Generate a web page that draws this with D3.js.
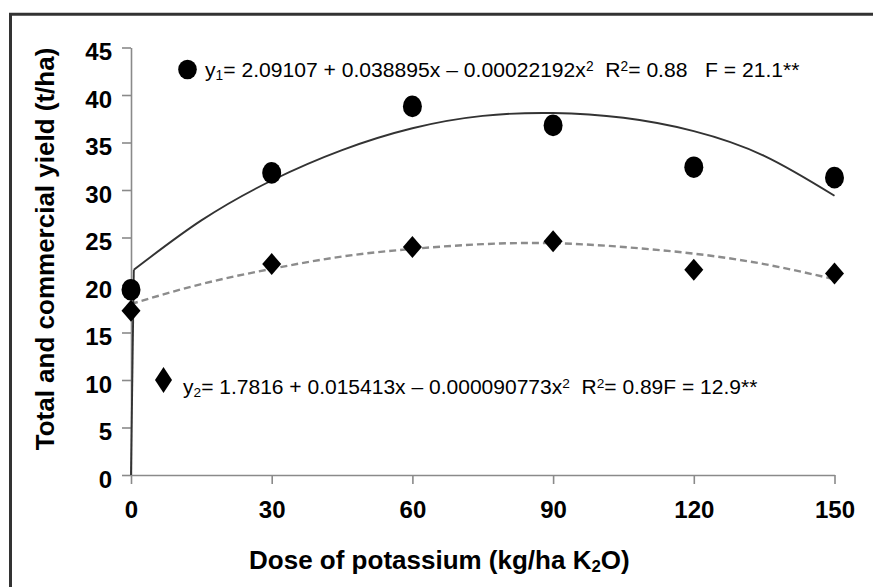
<!DOCTYPE html>
<html>
<head>
<meta charset="utf-8">
<script src="https://cdn.jsdelivr.net/npm/d3@7"></script>
<style>
  html, body { margin: 0; padding: 0; background: #fff; }
  svg { display: block; font-family: "Liberation Sans", Arial, sans-serif; }
</style>
</head>
<body>
<svg id="chart" width="873" height="587"></svg>
<script>
// ---------- data ----------
const doses = [0, 30, 60, 90, 120, 150];
const totalYield = [19.5, 31.8, 38.8, 36.8, 32.4, 31.3];
const commercialYield = [17.3, 22.2, 24.0, 24.6, 21.6, 21.2];

const fitDoses1 = [0.6, 15, 30, 45, 60, 75, 90, 105, 120, 135, 150];
const totalFit = [21.6, 26.8, 31.0, 34.2, 36.5, 37.8, 38.1, 37.6, 36.2, 33.6, 29.4];
const jumpDoses = [0, 0.6];
const jumpValues = [0, 21.6];

const fitDoses2 = [0, 15, 30, 45, 60, 75, 90, 105, 120, 135, 150];
const commercialFit = [18.0, 20.1, 21.7, 23.0, 23.8, 24.3, 24.4, 24.0, 23.3, 22.2, 20.6];

const xTicks = [0, 30, 60, 90, 120, 150];
const yTicks = [0, 5, 10, 15, 20, 25, 30, 35, 40, 45];

const xTitle = [{t: "Dose of potassium (kg/ha K"}, {t: "2", sub: true}, {t: "O)"}];
const yTitle = "Total and commercial yield (t/ha)";
const eq1 = [{t: "y"}, {t: "1", sub: true}, {t: "= 2.09107 + 0.038895x \u2013 0.00022192x"}, {t: "2", sup: true},
             {t: "  R"}, {t: "2", sup: true}, {t: "= 0.88   F = 21.1**"}];
const eq2 = [{t: "y"}, {t: "2", sub: true}, {t: "= 1.7816 + 0.015413x \u2013 0.000090773x"}, {t: "2", sup: true},
             {t: "  R"}, {t: "2", sup: true}, {t: "= 0.89F = 12.9**"}];

// ---------- layout ----------
const svg = d3.select("#chart");
const x = d3.scaleLinear().domain([0, 150]).range([131, 834.5]);
const y = d3.scaleLinear().domain([0, 45]).range([475, 47.5]);
const axisColor = "#8a8a8a";

// frame (only top and left visible)
svg.append("line").attr("x1", 9).attr("x2", 873).attr("y1", 14.2).attr("y2", 14.2)
  .attr("stroke", "#333").attr("stroke-width", 3);
svg.append("line").attr("x1", 10.5).attr("x2", 10.5).attr("y1", 13).attr("y2", 587)
  .attr("stroke", "#333").attr("stroke-width", 3);

// axes
const gx = svg.append("g").attr("transform", `translate(0,${y(0)})`)
  .call(d3.axisBottom(x).tickValues(xTicks).tickSize(9).tickSizeOuter(0).tickFormat(d3.format("d")));
gx.selectAll("text").attr("y", 26).attr("dy", "0.71em");
const gy = svg.append("g").attr("transform", `translate(${x(0)},0)`)
  .call(d3.axisLeft(y).tickValues(yTicks).tickSize(9).tickSizeOuter(0).tickFormat(d3.format("d")));
gy.selectAll("text").attr("x", -19).attr("dy", "0.5em");
[gx, gy].forEach(g => {
  g.select(".domain").attr("stroke", axisColor).attr("stroke-width", 1.6);
  g.selectAll(".tick line").attr("stroke", axisColor).attr("stroke-width", 1.6);
  g.selectAll("text").attr("fill", "#000").attr("font-size", 24).attr("font-weight", "bold")
    .attr("font-family", "'Liberation Sans', Arial, sans-serif");
});

// axis titles
function richText(parent, parts) {
  const t = parent.append("text").style("white-space", "pre");
  parts.forEach(p => {
    const ts = t.append("tspan").text(p.t);
    if (p.sub) ts.attr("font-size", "0.65em").attr("baseline-shift", "-18%");
    if (p.sup) ts.attr("font-size", "0.65em").attr("baseline-shift", "45%");
  });
  return t;
}
richText(svg, xTitle).attr("x", 439.4).attr("y", 569).attr("text-anchor", "middle")
  .attr("font-size", 26).attr("font-weight", "bold");
svg.append("text").attr("transform", "translate(53.5,249) rotate(-90)")
  .attr("text-anchor", "middle").attr("font-size", 26).attr("font-weight", "bold").text(yTitle);

// fitted curves
const line = d3.line().x(d => x(d[0])).y(d => y(d[1]));
svg.append("path")
  .attr("d", line.curve(d3.curveNatural)(fitDoses2.map((d, i) => [d, commercialFit[i]])))
  .attr("fill", "none").attr("stroke", "#8c8c8c").attr("stroke-width", 2.4).attr("stroke-dasharray", "7,4");
svg.append("path")
  .attr("d", line.curve(d3.curveLinear)(jumpDoses.map((d, i) => [d, jumpValues[i]])))
  .attr("fill", "none").attr("stroke", "#333").attr("stroke-width", 1.9);
svg.append("path")
  .attr("d", line.curve(d3.curveNatural)(fitDoses1.map((d, i) => [d, totalFit[i]])))
  .attr("fill", "none").attr("stroke", "#333").attr("stroke-width", 1.9);

// markers
function diamondPath(cx, cy, w, h) {
  return `M${cx},${cy - h / 2}L${cx + w / 2},${cy}L${cx},${cy + h / 2}L${cx - w / 2},${cy}Z`;
}
svg.append("g").selectAll("ellipse").data(doses).join("ellipse")
  .attr("cx", d => x(d)).attr("cy", (d, i) => y(totalYield[i]))
  .attr("rx", 9.5).attr("ry", 10.8).attr("fill", "#000");
svg.append("g").selectAll("path").data(doses).join("path")
  .attr("d", (d, i) => diamondPath(x(d), y(commercialYield[i]), 19, 22)).attr("fill", "#000");

// equations / legend
svg.append("ellipse").attr("cx", 187.5).attr("cy", 69.5).attr("rx", 9.3).attr("ry", 9.8).attr("fill", "#000");
svg.append("path").attr("d", diamondPath(163.5, 380, 17, 26)).attr("fill", "#000");

function fitWidth(t, target) {
  const w = t.node().getBBox().width;
  const fs = parseFloat(t.attr("font-size"));
  t.attr("font-size", fs * target / w);
}
const e1 = richText(svg, eq1).attr("x", 205).attr("y", 77).attr("font-size", 20);
fitWidth(e1, 595);
const e2 = richText(svg, eq2).attr("x", 183).attr("y", 394).attr("font-size", 20);
fitWidth(e2, 575);
</script>
</body>
</html>
